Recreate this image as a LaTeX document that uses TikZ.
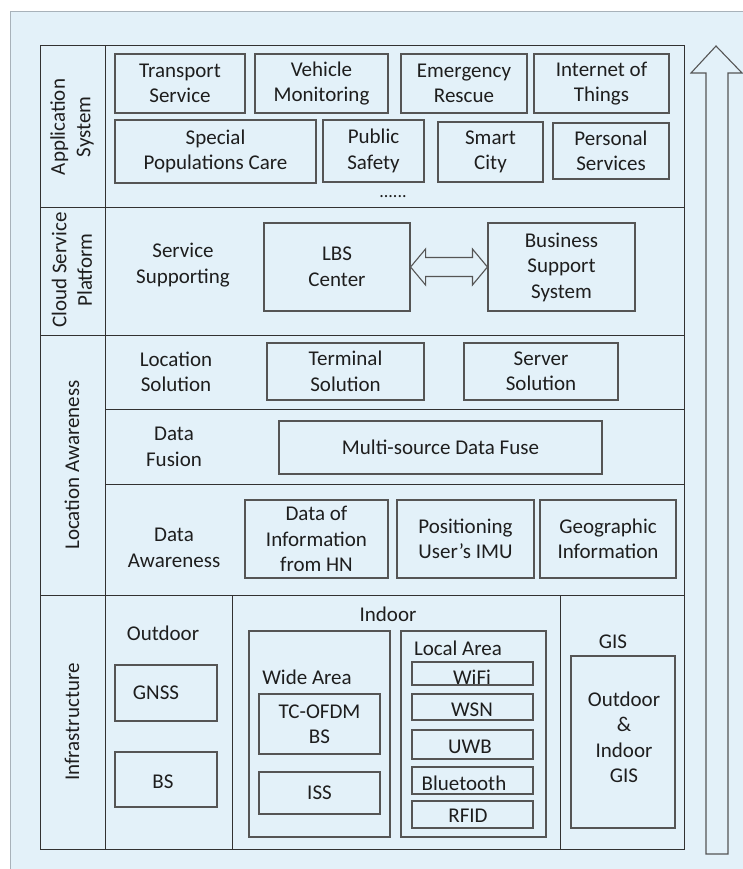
\documentclass[tikz,border=0pt]{standalone}
\usepackage{fontspec}
\setmainfont{Carlito}
\usetikzlibrary{calc}
\definecolor{bgblue}{RGB}{227,241,249}
\definecolor{framegray}{RGB}{168,178,186}
\definecolor{linedark}{RGB}{50,50,50}
\definecolor{boxgray}{RGB}{85,85,85}
\definecolor{txtcol}{RGB}{30,30,30}
\tikzset{
  txt/.style={text=txtcol, font=\fontsize{21}{25.5}\selectfont, align=center, inner sep=0pt},
  bx/.style={txt, draw=boxgray, line width=1.1pt},
  grid/.style={draw=linedark, line width=1pt},
  side/.style={txt, rotate=90},
}
\begin{document}
\begin{tikzpicture}[x=1pt,y=-1pt]
\useasboundingbox (0,0) rectangle (742,869);
% panel background
\fill[bgblue] (10,12) rectangle (750,880);
\draw[framegray, line width=1pt] (10,880) -- (10,12) -- (750,12);

% layer table
\draw[grid] (40,46) rectangle (684,849);
\draw[grid] (105,46) -- (105,849);
\draw[grid] (40,207) -- (684,207);
\draw[grid] (40,335) -- (684,335);
\draw[grid] (40,595) -- (684,595);
\draw[grid] (105,409) -- (684,409);
\draw[grid] (105,484) -- (684,484);
\draw[grid] (232,595) -- (232,849);
\draw[grid] (560,595) -- (560,849);

% layer names
\node[side] (lapp) at (72,127) {Application\\System};
\node[side] (lcloud) at (72,270) {Cloud Service\\Platform};
\node[side] (lloc) at (72,465) {Location Awareness};
\node[side] (linfra) at (72,722) {Infrastructure};

% application system
\node[bx, minimum width=130, minimum height=59] (ts) at (180,83.5) {Transport\\Service};
\node[bx, minimum width=133, minimum height=59] (vm) at (321.5,83.5) {Vehicle\\Monitoring};
\node[bx, minimum width=126, minimum height=59] (er) at (464,83.5) {Emergency\\Rescue};
\node[bx, minimum width=135, minimum height=59] (iot) at (601.5,83.5) {Internet of\\Things};
\node[bx, minimum width=201, minimum height=63] (spc) at (215.5,151.5) {Special\\Populations Care};
\node[bx, minimum width=101, minimum height=62] (ps) at (373.5,151) {Public\\Safety};
\node[bx, minimum width=105, minimum height=60] (sc) at (490.5,152) {Smart\\City};
\node[bx, minimum width=116, minimum height=56] (pers) at (611,151) {Personal\\Services};
\node[txt, font=\fontsize{18}{20}\selectfont] (dots) at (393,197) {......};

% cloud service platform
\node[txt] (ssup) at (183,265) {Service\\Supporting};
\node[bx, minimum width=146, minimum height=88] (lbs) at (337,267) {LBS\\Center};
\node[bx, minimum width=147, minimum height=88] (bss) at (561.5,267) {Business\\Support\\System};
\draw[draw=boxgray, fill=bgblue, line width=1.1pt]
  (lbs.east) -- ($(lbs.east)+(15,-18)$) -- ($(lbs.east)+(15,-9.5)$)
  -- ($(bss.west)+(-15,-9.5)$) -- ($(bss.west)+(-15,-18)$) -- (bss.west)
  -- ($(bss.west)+(-15,18)$) -- ($(bss.west)+(-15,9.5)$)
  -- ($(lbs.east)+(15,9.5)$) -- ($(lbs.east)+(15,18)$) -- cycle;

% location awareness
\node[txt] (locsol) at (176,372) {Location\\Solution};
\node[bx, minimum width=157, minimum height=57] (term) at (345.5,371.5) {Terminal\\Solution};
\node[bx, minimum width=154, minimum height=57] (serv) at (541,371.5) {Server\\Solution};
\node[txt] (dfus) at (174,447) {Data\\Fusion};
\node[bx, minimum width=323, minimum height=53] (msdf) at (440.5,447.5) {Multi-source Data Fuse};
\node[txt] (daw) at (174,548) {Data\\Awareness};
\node[bx, minimum width=143, minimum height=78] (hn) at (316.5,539) {Data of\\Information\\from HN};
\node[bx, minimum width=137, minimum height=78] (imu) at (465.5,539) {Positioning\\User’s IMU};
\node[bx, minimum width=136, minimum height=78] (geo) at (608,539) {Geographic\\Information};

% infrastructure: outdoor
\node[txt] (outd) at (163,633) {Outdoor};
\node[bx, minimum width=102, minimum height=56] (gnss) at (166,693) {};
\node[txt] (gnsst) at ($(gnss.center)+(-10,0)$) {GNSS};
\node[bx, minimum width=102, minimum height=55] (bs) at (166,779.5) {};
\node[txt] (bst) at ($(bs.center)+(-3,2)$) {BS};

% infrastructure: indoor
\node[txt] (indoor) at (388,614) {Indoor};
\node[bx, minimum width=141, minimum height=206] (wide) at (319.5,734) {};
\node[txt] (widet) at (307,677) {Wide Area};
\node[bx, minimum width=121, minimum height=60] (tc) at (319.5,724) {TC-OFDM\\BS};
\node[bx, minimum width=121, minimum height=42] (iss) at (319.5,793) {ISS};
\node[bx, minimum width=145, minimum height=206] (local) at (473.5,734) {};
\node[txt] (localt) at (458,648) {Local Area};
\node[bx, minimum width=121, minimum height=23] (wifi) at (472.5,673.5) {};
\node[txt] (wifit) at (472,677) {WiFi};
\node[bx, minimum width=121, minimum height=26] (wsn) at (472.5,707) {};
\node[txt] (wsnt) at (472,710) {WSN};
\node[bx, minimum width=121, minimum height=29] (uwb) at (472.5,744.5) {};
\node[txt] (uwbt) at (470,747) {UWB};
\node[bx, minimum width=121, minimum height=27] (bt) at (472.5,780.5) {};
\node[txt] (btt) at (464,783) {Bluetooth};
\node[bx, minimum width=121, minimum height=27] (rfid) at (472.5,814.5) {};
\node[txt] (rfidt) at (468,816) {RFID};

% infrastructure: GIS
\node[txt] (gist) at (613,642) {GIS};
\node[bx, minimum width=104, minimum height=172] (gis) at (623,742) {};
\node[txt, text width=100] (gisl) at (624,737.5) {Outdoor\\\&\\Indoor\\GIS};

% upward arrow beside the layers
\draw[draw=boxgray, fill=bgblue, line width=1.1pt]
  (716,46) -- (691,73) -- (706,73) -- (706,854) -- (728,854) -- (728,73) -- (742,73) -- cycle;
\end{tikzpicture}
\end{document}
